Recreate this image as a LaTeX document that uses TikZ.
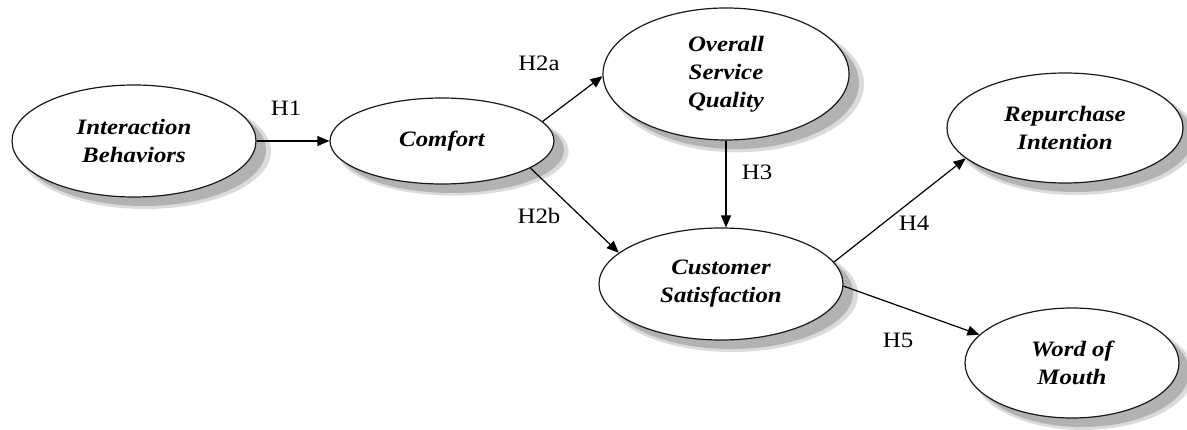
\documentclass[tikz,border=0pt]{standalone}
\usepackage{fontspec}
\setmainfont{Liberation Serif}[FakeStretch=1.13]
\usetikzlibrary{shapes.geometric,arrows.meta,shadows}

\tikzset{
  construct/.style={ellipse, draw=black!90, line width=1.2pt, fill=white,
    inner sep=0pt, align=center,
    font=\fontsize{22}{28}\selectfont\bfseries\itshape,
    general shadow={shadow xshift=11pt, shadow yshift=-10pt, shadow scale=1.03, fill=black!14},
    general shadow={shadow xshift=10pt, shadow yshift=-9pt, fill=black!30}},
  link/.style={-{Triangle[length=12pt,width=10pt]}, line width=1.2pt},
  hyp/.style={font=\fontsize{22}{24}\selectfont, inner sep=1pt}
}

\begin{document}
\begin{tikzpicture}[x=1pt,y=-1pt]
  \useasboundingbox (0,0) rectangle (1187,430);

  % constructs of the model
  \node[construct, minimum width=244pt, minimum height=112pt] (ib)  at (134,141) {Interaction\\Behaviors};
  \node[construct, minimum width=224pt, minimum height=86pt]  (cf)  at (442,141) {Comfort};
  \node[construct, minimum width=246pt, minimum height=132pt] (osq) at (726,74)  {Overall\\Service\\Quality};
  \node[construct, minimum width=244pt, minimum height=112pt] (cs)  at (721,284) {Customer\\Satisfaction};
  \node[construct, minimum width=236pt, minimum height=110pt] (ri)  at (1065,128) {Repurchase\\Intention};
  \node[construct, minimum width=214pt, minimum height=110pt] (wom) at (1072,363) {Word of\\Mouth};

  % hypothesised paths
  \draw[link] (ib) -- (cf);
  \draw[link] (cf.11.5) -- (osq.181.5);
  \draw[link] (cf.-17.7) -- (cs.163.4);
  \draw[link] (osq.south) -- (osq.south |- cs.north);
  \draw[link] (cs.11.5) -- (ri.-163);
  \draw[link] (cs.-1.4) -- (wom.163.9);

  % hypothesis labels
  \node[hyp] (h1)  at (286,108) {H1};
  \node[hyp] (h2a) at (539,63)  {H2a};
  \node[hyp] (h2b) at (539,216) {H2b};
  \node[hyp] (h3)  at (757,172) {H3};
  \node[hyp] (h4)  at (914,223) {H4};
  \node[hyp] (h5)  at (898,340) {H5};
\end{tikzpicture}
\end{document}
